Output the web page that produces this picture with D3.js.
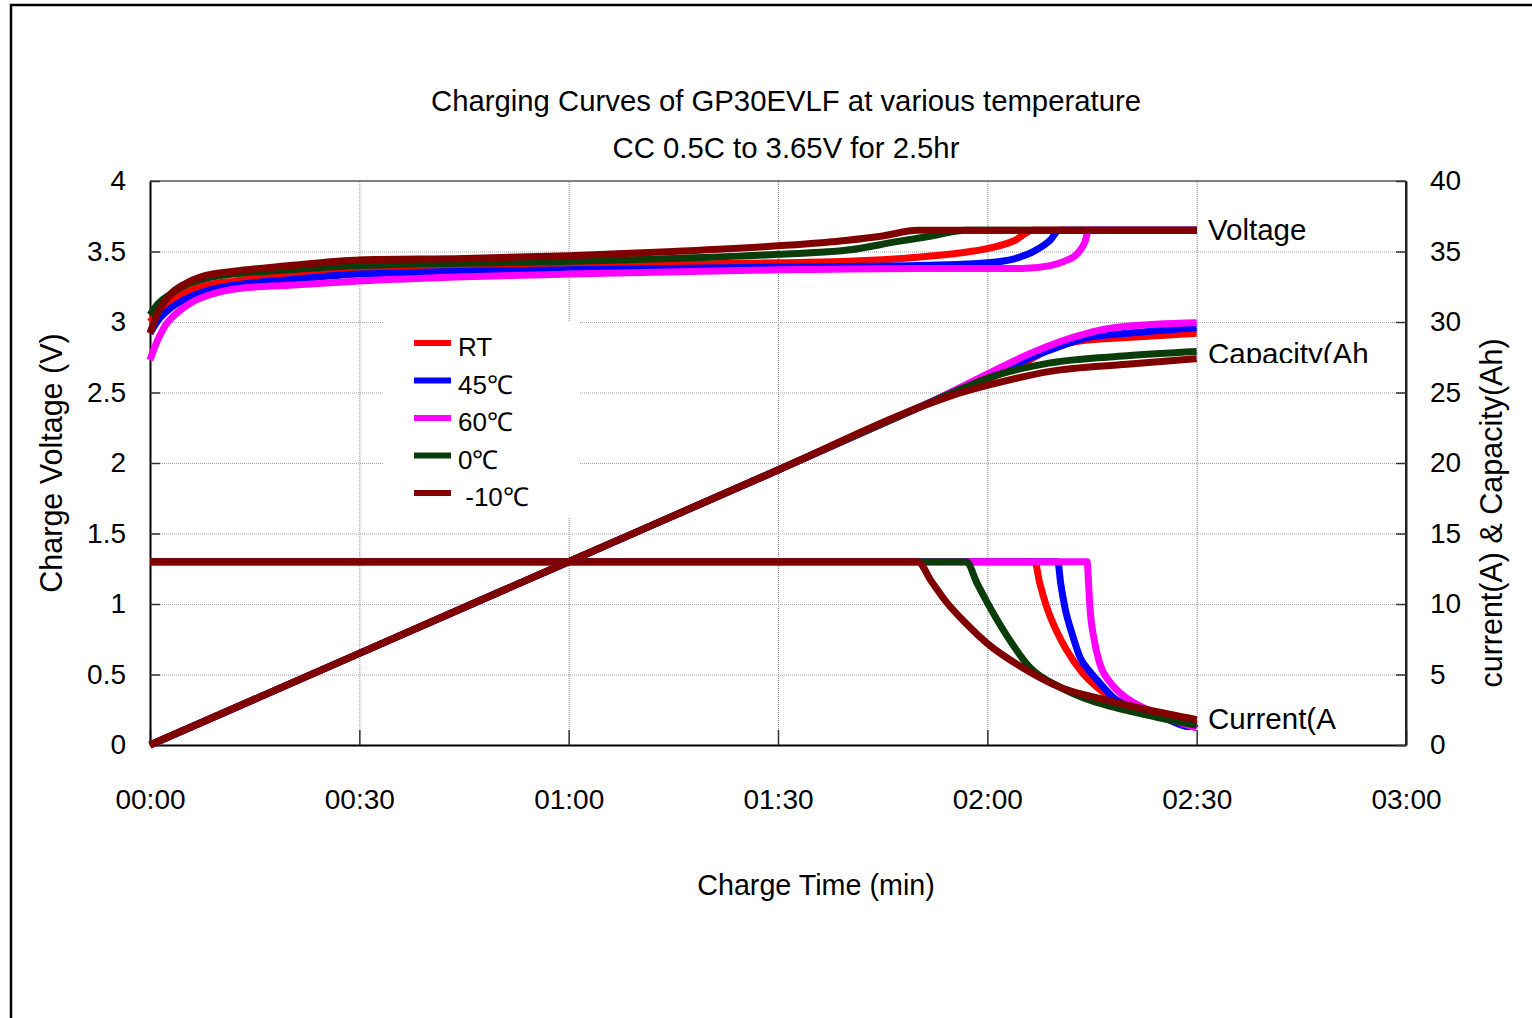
<!DOCTYPE html>
<html>
<head>
    <meta charset="utf-8">
    <title>Charging Curves of GP30EVLF</title>
    <script src="https://d3js.org/d3.v7.min.js"></script>
    <style>
        body { margin: 0; background: #fff; }
        text { font-family: "Liberation Sans", Arial, sans-serif; fill: #000; }
    </style>
</head>
<body>
    <div id="chart"></div>
    <script>
        // series names and colours (legend order)
        var seriesNames = ["RT", "45\u2103", "60\u2103", "0\u2103", " -10\u2103"];
        var seriesColors = ["#ff0000", "#0000ff", "#ff00ff", "#0b3d0b", "#800000"];

        // voltage [min, V]
        var voltRT = [[0,3.0],[1,3.06],[3,3.15],[5,3.21],[8,3.26],[12,3.29],[20,3.33],[30,3.36],[60,3.40],[90,3.42],[100,3.43],[110,3.46],[116,3.49],[120,3.52],[124,3.58],[126.5,3.65],[150,3.65]];
        var volt45 = [[0,2.92],[1,3.0],[3,3.1],[5,3.16],[8,3.22],[12,3.26],[20,3.30],[30,3.34],[60,3.37],[90,3.39],[110,3.40],[120,3.42],[124,3.45],[127,3.51],[129,3.58],[130.3,3.65],[150,3.65]];
        var volt60 = [[0,2.73],[1,2.86],[2,2.96],[4,3.07],[6,3.14],[9,3.20],[13,3.24],[20,3.26],[30,3.29],[60,3.34],[90,3.37],[110,3.38],[125,3.38],[129,3.40],[131,3.43],[133,3.49],[134,3.57],[134.5,3.65],[150,3.65]];
        var volt0 = [[0,3.05],[1,3.12],[3,3.2],[5,3.26],[8,3.31],[12,3.34],[20,3.37],[30,3.40],[60,3.43],[90,3.48],[100,3.51],[107,3.57],[112,3.61],[117,3.65],[150,3.65]];
        var voltM10 = [[0,2.92],[1,3.05],[3,3.2],[5,3.27],[8,3.33],[12,3.36],[20,3.40],[30,3.44],[45,3.45],[60,3.47],[75,3.50],[90,3.54],[100,3.58],[105,3.61],[110,3.65],[150,3.65]];

        // capacity [min, Ah]
        var capRT = [[0,0],[30,6.5],[60,13.0],[90,19.5],[110,23.9],[126,27.3],[129,28.1],[134,28.7],[140,28.9],[150,29.2]];
        var cap45 = [[0,0],[30,6.5],[60,13.0],[90,19.5],[110,23.9],[130,28.2],[134.3,28.9],[140,29.2],[150,29.6]];
        var cap60 = [[0,0],[30,6.5],[60,13.0],[90,19.5],[110,23.9],[134.3,29.2],[137,29.5],[140,29.7],[150,29.95]];
        var cap0 = [[0,0],[30,6.5],[60,13.0],[90,19.5],[110,23.9],[117,25.4],[120,26.0],[129,27.1],[140,27.6],[150,27.9]];
        var capM10 = [[0,0],[30,6.5],[60,13.0],[90,19.5],[110,23.9],[115,24.8],[120,25.5],[129,26.5],[140,27.0],[150,27.4]];

        // current [min, A]
        var curRT = [[0,13],[126.8,13],[127.5,11.5],[128.5,9.8],[130,8.0],[131.4,6.7],[133.5,5.2],[135.7,4.1],[138,3.3],[140.4,2.7],[145,2.1],[150,1.6]];
        var cur45 = [[0,13],[130.1,13],[130.5,11.5],[131.1,9.8],[132.2,7.8],[133.3,6.2],[134.7,5.2],[136.1,4.4],[138,3.4],[140.4,2.7],[145,2.0],[149,1.3],[150,1.5]];
        var cur60 = [[0,13],[134.3,13],[134.5,11.5],[134.7,9.8],[135.3,7.5],[136.1,5.8],[137.5,4.5],[139,3.7],[141,3.0],[143,2.5],[147,1.7],[150,1.2]];
        var cur0 = [[0,13],[117,13],[118.5,11.5],[120,10.1],[123,7.6],[126.1,5.5],[130.4,4.1],[134,3.3],[138,2.7],[144,2.0],[150,1.4]];
        var curM10 = [[0,13],[110,13],[112,11.6],[114.2,10.1],[117,8.6],[120,7.2],[125,5.5],[130.4,4.1],[137,3.2],[143,2.5],[150,1.8]];

        var voltData = [voltRT, volt45, volt60, volt0, voltM10];
        var capData = [capRT, cap45, cap60, cap0, capM10];
        var curData = [curRT, cur45, cur60, cur0, curM10];

        var xTicks = [0, 30, 60, 90, 120, 150, 180];
        var xTickLabels = ["00:00", "00:30", "01:00", "01:30", "02:00", "02:30", "03:00"];
        var yLeftTicks = [0, 0.5, 1, 1.5, 2, 2.5, 3, 3.5, 4];
        var yRightTicks = [0, 5, 10, 15, 20, 25, 30, 35, 40];

        var W = 1532, H = 1018;
        var plotL = 150, plotR = 1406, plotT = 181, plotB = 745;

        var svg = d3.select("#chart")
            .append("svg")
            .attr("width", W)
            .attr("height", H);

        // outer frame (runs off the right and bottom edges)
        svg.append("rect")
            .attr("x", 11).attr("y", 5)
            .attr("width", W).attr("height", H)
            .attr("fill", "none")
            .attr("stroke", "#000")
            .attr("stroke-width", 2.5);

        var x = d3.scaleLinear().domain([0, 180]).range([plotL, plotR]);
        var yL = d3.scaleLinear().domain([0, 4]).range([plotB, plotT]);
        var yR = d3.scaleLinear().domain([0, 40]).range([plotB, plotT]);

        // grid
        svg.append("g")
            .attr("transform", `translate(0, ${plotB})`)
            .call(d3.axisBottom(x).tickValues(xTicks.slice(1, -1)).tickSize(-(plotB - plotT)).tickFormat(""))
            .call(g => g.select(".domain").remove())
            .selectAll("line")
            .attr("stroke", "#8a8a8a")
            .attr("stroke-dasharray", "1,1");

        svg.append("g")
            .attr("transform", `translate(${plotL}, 0)`)
            .call(d3.axisLeft(yL).tickValues(yLeftTicks.slice(1, -1)).tickSize(-(plotR - plotL)).tickFormat(""))
            .call(g => g.select(".domain").remove())
            .selectAll("line")
            .attr("stroke", "#a0a0c0")
            .attr("stroke-dasharray", "1,1");

        // plot border
        svg.append("line").attr("x1", plotL).attr("x2", plotR).attr("y1", plotT).attr("y2", plotT)
            .attr("stroke", "#808080").attr("stroke-width", 2);
        svg.append("line").attr("x1", plotR).attr("x2", plotR).attr("y1", plotT).attr("y2", plotB)
            .attr("stroke", "#222").attr("stroke-width", 2);

        // axes
        var xAxis = svg.append("g")
            .attr("transform", `translate(0, ${plotB})`)
            .call(d3.axisBottom(x).tickValues(xTicks).tickSizeInner(-15).tickSizeOuter(0)
                .tickPadding(44).tickFormat((d, i) => xTickLabels[i]));

        var yAxisL = svg.append("g")
            .attr("transform", `translate(${plotL}, 0)`)
            .call(d3.axisLeft(yL).tickValues(yLeftTicks).tickSizeInner(-10).tickSizeOuter(0)
                .tickPadding(24).tickFormat(d3.format("")));

        var yAxisR = svg.append("g")
            .attr("transform", `translate(${plotR}, 0)`)
            .call(d3.axisRight(yR).tickValues(yRightTicks).tickSizeInner(-10).tickSizeOuter(0)
                .tickPadding(24).tickFormat(d3.format("")));

        [xAxis, yAxisL, yAxisR].forEach(function(g) {
            g.select(".domain").attr("stroke", "#000").attr("stroke-width", 2);
            g.selectAll(".tick line").attr("stroke", "#333").attr("stroke-width", 1.5);
            g.selectAll(".tick text")
                .style("font-family", "'Liberation Sans', Arial, sans-serif")
                .style("font-size", "28px")
                .attr("fill", "#000");
        });
        yAxisR.select(".domain").attr("stroke", "#222");

        // legend box
        svg.append("rect")
            .attr("x", 383).attr("y", 322)
            .attr("width", 197).attr("height", 195)
            .attr("fill", "#fff");

        // curves
        var lineV = d3.line().x(d => x(d[0])).y(d => yL(d[1])).curve(d3.curveMonotoneX);
        var lineR = d3.line().x(d => x(d[0])).y(d => yR(d[1])).curve(d3.curveMonotoneX);

        function drawGroup(data, lineGen) {
            svg.append("g")
                .selectAll("path")
                .data(data)
                .enter()
                .append("path")
                .attr("d", lineGen)
                .attr("fill", "none")
                .attr("stroke", (d, i) => seriesColors[i])
                .attr("stroke-width", 7);
        }
        drawGroup(curData, lineR);
        drawGroup(capData, lineR);
        drawGroup(voltData, lineV);

        // legend entries
        var legend = svg.append("g");
        seriesNames.forEach(function(name, i) {
            var ly = 343 + i * 37.5;
            legend.append("line")
                .attr("x1", 414).attr("x2", 451)
                .attr("y1", ly).attr("y2", ly)
                .attr("stroke", seriesColors[i])
                .attr("stroke-width", 6);
            legend.append("text")
                .attr("x", 458).attr("y", ly + 13)
                .style("font-size", "26px")
                .style("white-space", "pre")
                .attr("xml:space", "preserve")
                .text(name);
        });

        // right-hand curve labels
        svg.append("clipPath").attr("id", "capClip")
            .append("rect").attr("x", 1200).attr("y", 330).attr("width", 200).attr("height", 33);

        svg.append("text").attr("x", 1208).attr("y", 240).style("font-size", "29.5px").text("Voltage");
        svg.append("text").attr("x", 1208).attr("y", 364).style("font-size", "29.5px")
            .attr("clip-path", "url(#capClip)").text("Capacity(Ah");
        svg.append("text").attr("x", 1208).attr("y", 729).style("font-size", "29.5px").text("Current(A");

        // titles
        svg.append("text")
            .attr("x", 786).attr("y", 111)
            .style("text-anchor", "middle")
            .style("font-size", "29.3px")
            .text("Charging Curves of GP30EVLF at various temperature");

        svg.append("text")
            .attr("x", 786).attr("y", 158)
            .style("text-anchor", "middle")
            .style("font-size", "29.3px")
            .text("CC 0.5C to 3.65V for 2.5hr");

        svg.append("text")
            .attr("x", 816).attr("y", 895)
            .style("text-anchor", "middle")
            .style("font-size", "28.7px")
            .text("Charge Time (min)");

        svg.append("text")
            .attr("transform", "translate(62, 463) rotate(-90)")
            .style("text-anchor", "middle")
            .style("font-size", "30.5px")
            .text("Charge Voltage (V)");

        svg.append("text")
            .attr("transform", "translate(1502, 513) rotate(-90)")
            .style("text-anchor", "middle")
            .style("font-size", "30.5px")
            .text("current(A) & Capacity(Ah)");
    </script>
</body>
</html>
